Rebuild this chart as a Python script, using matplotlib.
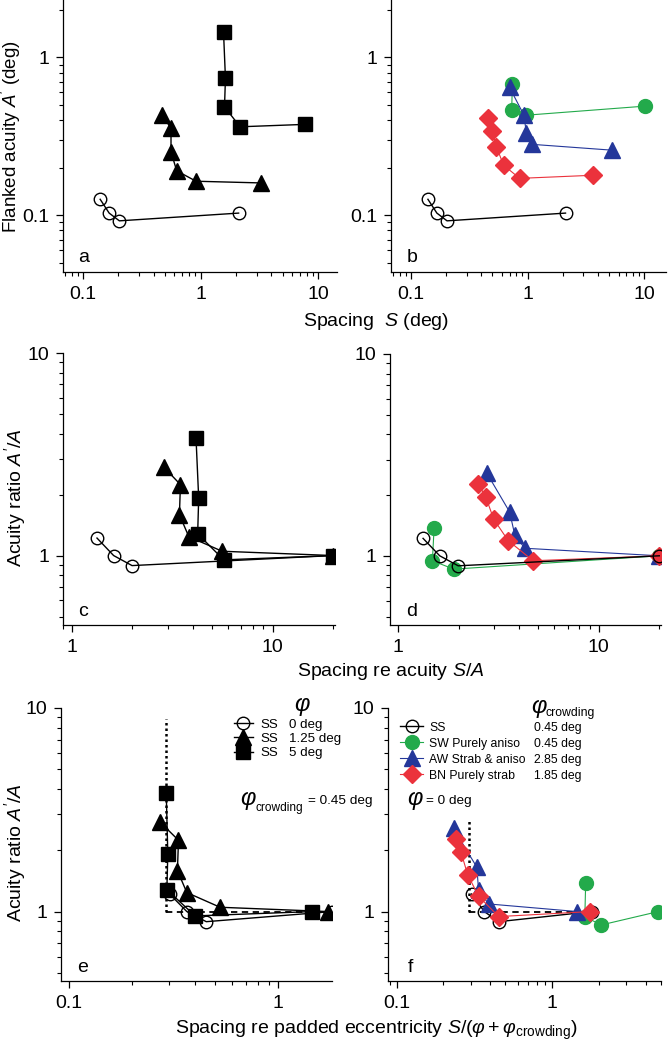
import numpy as np
import matplotlib.pyplot as plt
from matplotlib.ticker import NullFormatter
from matplotlib.lines import Line2D

plt.rcParams['font.family'] = ['Liberation Sans', 'DejaVu Sans']
plt.rcParams['mathtext.fontset'] = 'custom'
plt.rcParams['mathtext.rm'] = 'Liberation Sans'
plt.rcParams['mathtext.it'] = 'Liberation Sans:italic'
plt.rcParams['mathtext.bf'] = 'Liberation Sans:bold'

W, H = 672, 1043

GREEN = '#23aa4b'
BLUE = '#24379a'
RED = '#eb323c'

# ---- panels a, b : flanked acuity A' (deg) vs spacing S (deg)
ss0_S = [0.14, 0.167, 0.204, 2.11]
ss0_A = [0.126, 0.103, 0.092, 0.103]
ss125_S = [0.473, 0.561, 0.561, 0.627, 0.916, 3.25]
ss125_A = [0.43, 0.355, 0.252, 0.191, 0.164, 0.160]
ss5_S = [1.57, 1.63, 1.60, 2.17, 7.74]
ss5_A = [1.44, 0.736, 0.486, 0.363, 0.376]
sw_S = [0.74, 0.73, 0.975, 10.2]
sw_A = [0.677, 0.463, 0.43, 0.491]
aw_S = [0.70, 0.93, 0.975, 1.09, 5.3]
aw_A = [0.645, 0.43, 0.33, 0.281, 0.258]
bn_S = [0.458, 0.499, 0.54, 0.623, 0.855, 3.66]
bn_A = [0.41, 0.343, 0.271, 0.207, 0.171, 0.179]

# ---- panels c, d : acuity ratio A'/A vs spacing re acuity S/A
ss0_SA = [1.33, 1.61, 1.99, 20]
ss0_R = [1.22, 1.0, 0.892, 1.0]
ss125_SA = [2.86, 3.47, 3.43, 3.82, 5.6, 20]
ss125_R = [2.74, 2.24, 1.59, 1.24, 1.05, 1.0]
ss5_SA = [4.15, 4.28, 4.23, 5.71, 20]
ss5_R = [3.81, 1.92, 1.28, 0.952, 1.0]
sw_SA = [1.51, 1.48, 1.89, 20]
sw_R = [1.38, 0.945, 0.859, 1.0]
aw_SA = [2.77, 3.59, 3.81, 4.27, 20]
aw_R = [2.56, 1.65, 1.27, 1.09, 1.0]
bn_SA = [2.50, 2.73, 2.99, 3.53, 4.70, 20]
bn_R = [2.28, 1.96, 1.52, 1.19, 0.945, 1.0]

# ---- panels e, f : spacing re padded eccentricity S/(phi+phi_crowding)
ss0_P = [0.303, 0.366, 0.453, 1.80]
ss125_P = [0.274, 0.334, 0.330, 0.366, 0.527, 1.73]
ss5_P = [0.292, 0.297, 0.294, 0.401, 1.44]
sw_P = [1.64, 1.62, 2.06, 4.8]
aw_P = [0.232, 0.328, 0.336, 0.39, 1.45]
bn_P = [0.241, 0.259, 0.286, 0.336, 0.453, 1.75]

# crowding model: critical spacing and unit ratio
crit_x = [0.29, 0.29]
crit_y_e = [1.0, 8.8]
crit_y_f = [1.0, 2.78]
flat_x = [0.29, 2.0]
flat_y = [1.0, 1.0]

legend_e = ['0 deg', '1.25 deg', '5 deg']
legend_f_names = ['SS', 'SW Purely aniso', 'AW Strab & aniso', 'BN Purely strab']
legend_f_vals = ['0.45 deg', '0.45 deg', '2.85 deg', '1.85 deg']

fig = plt.figure(figsize=(W / 100, H / 100), dpi=100)


def make_ax(l, t, r, b):
    return fig.add_axes([l / W, 1 - b / H, (r - l) / W, (b - t) / H])


def ptext(x, y, s, **kw):
    return fig.text(x / W, 1 - y / H, s, **kw)


def style(ax, xlim, ylim, xt, yt):
    ax.set_xscale('log')
    ax.set_yscale('log')
    ax.set_xlim(xlim)
    ax.set_ylim(ylim)
    ax.spines['top'].set_visible(False)
    ax.spines['right'].set_visible(False)
    for s in ['left', 'bottom']:
        ax.spines[s].set_linewidth(0.9)
    ax.set_xticks(xt)
    ax.set_xticklabels(['%g' % v for v in xt])
    ax.set_yticks(yt)
    ax.set_yticklabels(['%g' % v for v in yt])
    ax.xaxis.set_minor_formatter(NullFormatter())
    ax.yaxis.set_minor_formatter(NullFormatter())
    ax.tick_params(which='major', length=5, width=0.9, labelsize=14, pad=5)
    ax.tick_params(which='minor', length=2.8, width=0.8)


def ss0(ax, x, y, z=3):
    ax.plot(x, y, color='k', lw=1, marker='o', ms=9, mfc='none', mew=1, zorder=z)


def ss125(ax, x, y):
    ax.plot(x, y, color='k', lw=1, marker='^', ms=11, mfc='k', zorder=3)


def ss5(ax, x, y):
    ax.plot(x, y, color='k', lw=1, marker='s', ms=10.5, mfc='k', zorder=3)


def sw(ax, x, y):
    ax.plot(x, y, color=GREEN, lw=0.8, marker='o', ms=10, zorder=3)


def aw(ax, x, y):
    ax.plot(x, y, color=BLUE, lw=0.8, marker='^', ms=11.3, zorder=3)


def bn(ax, x, y):
    ax.plot(x, y, color=RED, lw=0.8, marker='D', ms=9.6, zorder=3)


# panel a
ax = make_ax(63, 0, 337, 272)
style(ax, (0.0676, 14.5), (0.0436, 2.31), [0.1, 1, 10], [0.1, 1])
ss0(ax, ss0_S, ss0_A)
ss125(ax, ss125_S, ss125_A)
ss5(ax, ss5_S, ss5_A)

# panel b
ax = make_ax(391, 0, 666, 272)
style(ax, (0.0676, 15.3), (0.0436, 2.31), [0.1, 1, 10], [0.1, 1])
ss0(ax, ss0_S, ss0_A)
sw(ax, sw_S, sw_A)
aw(ax, aw_S, aw_A)
bn(ax, bn_S, bn_A)

# panel c
ax = make_ax(63, 353, 335, 625)
style(ax, (0.90, 20.5), (0.454, 10), [1, 10], [1, 10])
ss0(ax, ss0_SA, ss0_R)
ss125(ax, ss125_SA, ss125_R)
ss5(ax, ss5_SA, ss5_R)

# panel d
ax = make_ax(390, 354, 661, 625)
style(ax, (0.91, 20.4), (0.454, 10), [1, 10], [1, 10])
sw(ax, sw_SA, sw_R)
aw(ax, aw_SA, aw_R)
bn(ax, bn_SA, bn_R)
ss0(ax, ss0_SA, ss0_R, z=4)

# panel e
ax_e = make_ax(61, 708, 332, 981)
style(ax_e, (0.092, 1.8), (0.456, 10), [0.1, 1], [1, 10])
ax_e.plot(crit_x, crit_y_e, color='k', lw=1.8, ls=(0, (1, 1.2)), zorder=2)
ax_e.plot(flat_x, flat_y, color='k', lw=1.3, ls=(0, (3.5, 2.5)), zorder=2)
ss0(ax_e, ss0_P, ss0_R)
ss125(ax_e, ss125_P, ss125_R)
ss5(ax_e, ss5_P, ss5_R)

# panel f
ax_f = make_ax(388, 708, 661, 981)
style(ax_f, (0.088, 5.0), (0.456, 10), [0.1, 1], [1, 10])
ax_f.plot(crit_x, crit_y_f, color='k', lw=1.8, ls=(0, (1, 1.2)), zorder=2)
ax_f.plot(flat_x, flat_y, color='k', lw=1.3, ls=(0, (3.5, 2.5)), zorder=2)
ss0(ax_f, ss0_P, ss0_R)
sw(ax_f, sw_P, sw_R)
aw(ax_f, aw_P, aw_R)
bn(ax_f, bn_P, bn_R)

# legends
h_e = [Line2D([], [], color='k', lw=1, marker='o', ms=9, mfc='none'),
       Line2D([], [], color='k', lw=1, marker='^', ms=11, mfc='k'),
       Line2D([], [], color='k', lw=1, marker='s', ms=10.5, mfc='k')]
leg_e = ax_e.legend(h_e, ['SS'] * 3, loc='upper left', bbox_to_anchor=(0.638, 0.962),
                    frameon=False, fontsize=9.6, handlelength=1.4, handletextpad=0.6,
                    labelspacing=0.15, borderpad=0, borderaxespad=0)

h_f = [Line2D([], [], color='k', lw=1, marker='o', ms=9, mfc='none'),
       Line2D([], [], color=GREEN, lw=0.8, marker='o', ms=10),
       Line2D([], [], color=BLUE, lw=0.8, marker='^', ms=11.3),
       Line2D([], [], color=RED, lw=0.8, marker='D', ms=9.6)]
leg_f = ax_f.legend(h_f, legend_f_names, loc='upper left', bbox_to_anchor=(0.044, 0.950),
                    frameon=False, fontsize=8.8, handlelength=1.9, handletextpad=0.5,
                    labelspacing=0.33, borderpad=0, borderaxespad=0)

fig.canvas.draw()
inv = fig.transFigure.inverted()
for txt, val in zip(leg_e.get_texts(), legend_e):
    bb = txt.get_window_extent()
    yc = inv.transform((0, (bb.y0 + bb.y1) / 2))[1]
    fig.text(289 / W, yc, val, fontsize=9.6, va='center', ha='left')
for txt, val in zip(leg_f.get_texts(), legend_f_vals):
    bb = txt.get_window_extent()
    yc = inv.transform((0, (bb.y0 + bb.y1) / 2))[1]
    fig.text(534 / W, yc, val, fontsize=8.8, va='center', ha='left')

# legend headers and model notes
ptext(302, 705, 'φ', fontsize=17, style='italic', ha='center', va='center')
ptext(531, 707, 'φ', fontsize=17, style='italic', ha='left', va='center')
ptext(546, 713, 'crowding', fontsize=8.8, ha='left', va='center')
ptext(240, 799, 'φ', fontsize=17, style='italic', ha='left', va='center')
ptext(255, 808, 'crowding', fontsize=8.6, ha='left', va='center')
ptext(308, 801, '= 0.45 deg', fontsize=9.7, ha='left', va='center')
ptext(407, 799, 'φ', fontsize=17, style='italic', ha='left', va='center')
ptext(426, 801, '= 0 deg', fontsize=9.7, ha='left', va='center')

# panel letters
for x, y, s in [(84, 257, 'a'), (412, 257, 'b'), (83, 612, 'c'),
                (412, 612, 'd'), (83, 967, 'e'), (410, 967, 'f')]:
    ptext(x, y, s, fontsize=14, ha='center', va='center')

# axis labels
ptext(11, 233, "Flanked acuity $A'$ (deg)", fontsize=13.5, rotation=90, ha='center', va='bottom')
ptext(15, 567, "Acuity ratio $A'/A$", fontsize=14, rotation=90, ha='center', va='bottom')
ptext(15, 922, "Acuity ratio $A'/A$", fontsize=14, rotation=90, ha='center', va='bottom')
ptext(376, 322, 'Spacing  $S$ (deg)', fontsize=14, ha='center', va='center')
ptext(391, 672, 'Spacing re acuity $S/A$', fontsize=14, ha='center', va='center')
ptext(376, 1030, r'Spacing re padded eccentricity $S/(\varphi+\varphi_{\mathrm{crowding}})$',
      fontsize=14, ha='center', va='center')

fig.savefig('out.png', dpi=100)
